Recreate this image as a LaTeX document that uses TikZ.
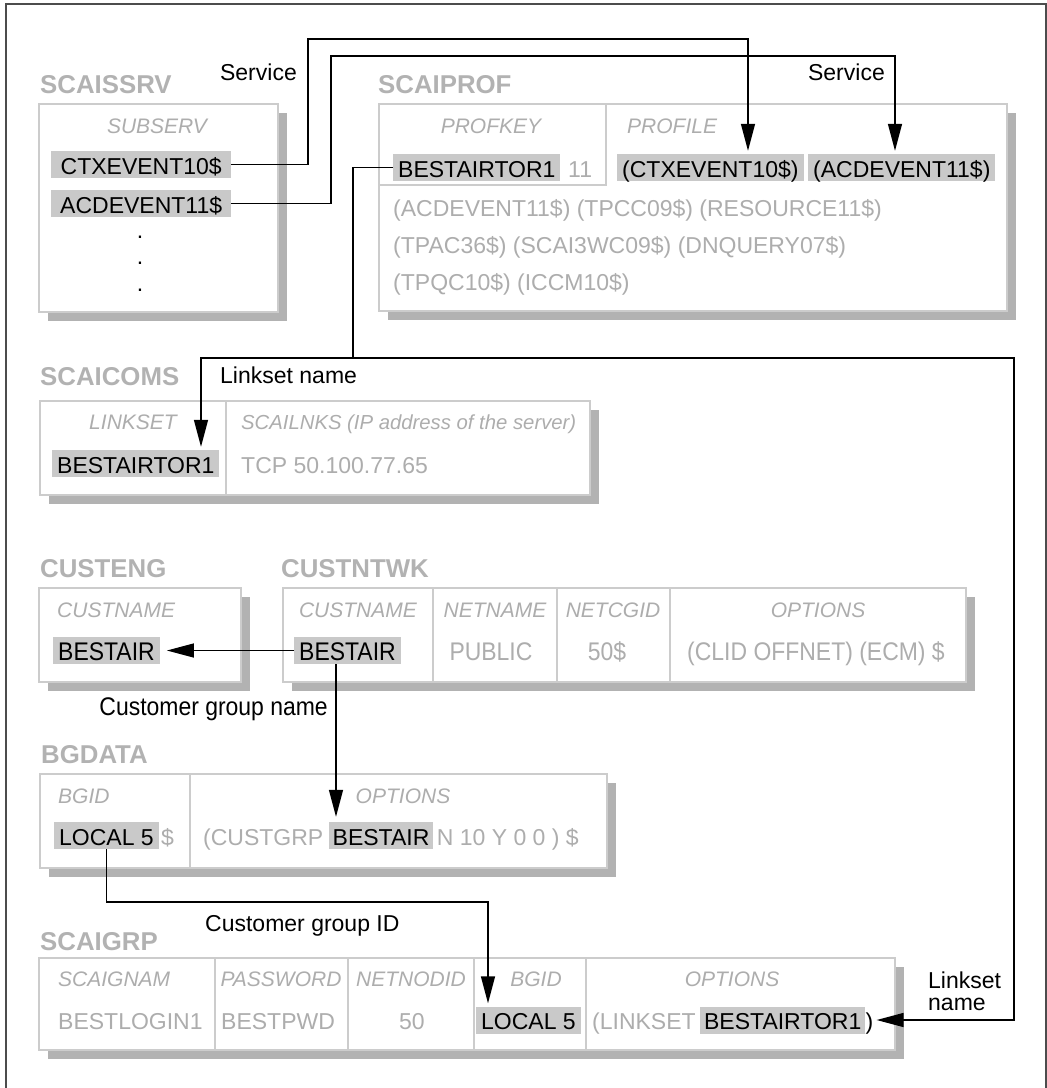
\documentclass[tikz,border=0pt]{standalone}
\usepackage{fontspec}
\setmainfont{Liberation Sans}
\newfontfamily\tallfont{Liberation Sans}[FakeStretch=0.9]
\usetikzlibrary{arrows.meta,shadows}
\definecolor{boxgray}{gray}{0.80}
\definecolor{shadegray}{gray}{0.70}
\definecolor{hlgray}{gray}{0.79}
\definecolor{txtgray}{gray}{0.68}
\definecolor{titlegray}{gray}{0.70}
\definecolor{framegray}{gray}{0.30}

\begin{document}
\begin{tikzpicture}[x=1pt,y=-1pt,
  tbl/.style={draw=boxgray,line width=1.5pt,fill=white,inner sep=0pt,anchor=north west,
    drop shadow={shadow xshift=9pt,shadow yshift=-9pt,fill=shadegray,opacity=1}},
  cell/.style={draw=boxgray,line width=1.5pt},
  tname/.style={anchor=base west,inner sep=0pt,text=titlegray,font=\fontsize{25.8}{26}\selectfont\bfseries},
  head/.style={anchor=base,inner sep=0pt,text=txtgray,font=\fontsize{21}{21}\selectfont\itshape},
  val/.style={anchor=base west,inner sep=0pt,text height=23pt,text depth=4pt,text=txtgray,font=\fontsize{23}{23}\selectfont},
  hl/.style={val,fill=hlgray,text=black,inner xsep=5pt},
  tall/.style={font=\tallfont\fontsize{25.5}{25}\selectfont},
  lbl/.style={anchor=base east,inner sep=0pt,font=\fontsize{23}{22}\selectfont},
  link/.style={line width=1.4pt},
  arr/.style={link,-{Triangle[length=27pt,width=14pt]}}]
\useasboundingbox (0,0) rectangle (1047,1088);
\draw[framegray,line width=2pt] (6,1100) -- (6,4) -- (1046,4) -- (1046,1100);

% SCAISSRV
\node[tname] (t-srv) at (40,93) {SCAISSRV};
\node[tbl,minimum width=239pt,minimum height=208pt] (srv) at (38,103) {};
\node[head] (h-sub) at (157,133) {SUBSERV};
\node[hl,minimum width=180pt] (ctx1) at (51,174) {CTXEVENT10\$};
\node[hl,minimum width=180pt] (acd1) at (51,213) {ACDEVENT11\$};
\node[val,text=black,anchor=base] (dot1) at (140,238.5) {.};
\node[val,text=black,anchor=base] (dot2) at (140,264.5) {.};
\node[val,text=black,anchor=base] (dot3) at (140,291.5) {.};

% SCAIPROF
\node[tname] (t-prof) at (378,93) {SCAIPROF};
\node[tbl,minimum width=628pt,minimum height=207pt] (prof) at (378,103) {};
\draw[cell] (606,103) -- (606,185) -- (378,185);
\node[head] (h-key) at (491,133) {PROFKEY};
\node[head,anchor=base west] (h-pro) at (627,133) {PROFILE};
\node[hl] (bst1) at (393,177) {BESTAIRTOR1};
\node[val] (n11) at (568,177) {11};
\node[hl] (ctx2) at (617,177) {(CTXEVENT10\$)};
\node[hl] (acd2) at (808,177) {(ACDEVENT11\$)};
\node[val] (p1) at (393,216) {(ACDEVENT11\$) (TPCC09\$) (RESOURCE11\$)};
\node[val] (p2) at (393,253) {(TPAC36\$) (SCAI3WC09\$) (DNQUERY07\$)};
\node[val] (p3) at (393,290) {(TPQC10\$) (ICCM10\$)};

\node[lbl] (sv1) at (297,80) {Service};
\node[lbl] (sv2) at (885,80) {Service};
\coordinate (s1a) at (308,39);
\coordinate (s1b) at (748,39);
\coordinate (s2a) at (331,56);
\coordinate (s2b) at (895,56);
\draw[arr,shorten >=3pt] (ctx1.east) -| (s1a) -- (s1b) -- (s1b |- ctx2.north);
\draw[arr,shorten >=3pt] (acd1.east) -| (s2a) -- (s2b) -- (s2b |- acd2.north);

% SCAICOMS
\node[tname] (t-coms) at (40,385) {SCAICOMS};
\node[lbl,anchor=base west] (lsn1) at (220,383) {Linkset name};
\node[tbl,minimum width=550pt,minimum height=94pt] (coms) at (39,400) {};
\draw[cell] (226,400) -- (226,494);
\node[head] (h-ls) at (133,429) {LINKSET};
\node[head,anchor=base west,font=\fontsize{20.3}{21}\selectfont\itshape] (h-lnk) at (241,429) {SCAILNKS (IP address of the server)};
\node[hl] (bst2) at (52,473) {BESTAIRTOR1};
\node[val] (tcp) at (241,473) {TCP 50.100.77.65};

% CUSTENG / CUSTNTWK
\node[tname] (t-eng) at (40,577) {CUSTENG};
\node[tname] (t-ntwk) at (281,577) {CUSTNTWK};
\node[tbl,minimum width=202pt,minimum height=94pt] (eng) at (38,587) {};
\node[tbl,minimum width=683pt,minimum height=94pt] (ntwk) at (282,587) {};
\draw[cell] (433,587) -- (433,681);
\draw[cell] (557,587) -- (557,681);
\draw[cell] (670,587) -- (670,681);
\node[head,anchor=base west] (h-cn1) at (57,617) {CUSTNAME};
\node[head] (h-cn2) at (358,617) {CUSTNAME};
\node[head] (h-nn) at (495,617) {NETNAME};
\node[head] (h-cg) at (613,617) {NETCGID};
\node[head] (h-op1) at (818,617) {OPTIONS};
\node[hl,tall] (cn1) at (53,660) {BESTAIR};
\node[hl,tall] (cn2) at (294,660) {BESTAIR};
\node[val,tall,anchor=base] (pub) at (491,660) {PUBLIC};
\node[val,tall,anchor=base] (cg) at (607,660) {50\$};
\node[val,tall,anchor=base] (op1) at (816,660) {(CLID OFFNET) (ECM) \$};
\draw[arr,shorten >=7pt] (cn2.west) -- (cn1.east);

% BGDATA
\node[lbl,tall] (gname) at (328,715) {Customer group name};
\node[tname] (t-bg) at (41,763) {BGDATA};
\node[tbl,minimum width=567pt,minimum height=94pt] (bg) at (39,773) {};
\draw[cell] (190,773) -- (190,867);
\node[head,anchor=base west] (h-bgid) at (58,803) {BGID};
\node[head] (h-op2) at (403,803) {OPTIONS};
\node[hl] (lc1) at (54,845) {LOCAL 5};
\node[val] (dl) at (161,845) {\$};
\node[val] (cgrp) at (203,845) {(CUSTGRP};
\node[hl,inner xsep=4pt] (bg2) at ([xshift=5pt]cgrp.base east) {BESTAIR};
\node[val] (rest) at ([xshift=3pt]bg2.base east) {N 10 Y 0 0 ) \$};
\coordinate (gn) at ([xshift=42pt]cn2.south west);
\draw[arr,shorten >=5pt] (gn) -- (gn |- bg2.north);

% SCAIGRP
\node[lbl,anchor=base west] (gid) at (205,931) {Customer group ID};
\node[tname] (t-grp) at (40,950) {SCAIGRP};
\node[tbl,minimum width=856pt,minimum height=92pt] (grp) at (38,957) {};
\draw[cell] (215,957) -- (215,1049);
\draw[cell] (348,957) -- (348,1049);
\draw[cell] (474,957) -- (474,1049);
\draw[cell] (586,957) -- (586,1049);
\node[head,anchor=base west] (h-sn) at (58,986) {SCAIGNAM};
\node[head] (h-pw) at (281,986) {PASSWORD};
\node[head] (h-nd) at (411,986) {NETNODID};
\node[head] (h-bg) at (536,986) {BGID};
\node[head] (h-op3) at (732,986) {OPTIONS};
\node[val] (lgn) at (58,1029.5) {BESTLOGIN1};
\node[val] (pwd) at (221,1029.5) {BESTPWD};
\node[val,anchor=base] (nd) at (412,1029.5) {50};
\node[hl] (lc2) at (476,1029.5) {LOCAL 5};
\node[val] (lks) at (592,1029.5) {(LINKSET};
\node[hl,inner xsep=4pt] (bst3) at ([xshift=4pt]lks.base east) {BESTAIRTOR1};
\node[val,text=black] (rp) at (bst3.base east) {)};
\node[lbl,anchor=base west,align=left] (lsn2) at (928,1010) {Linkset\\name};

\coordinate (b5) at (488,902);
\draw[arr,shorten >=3pt] (lc1.south) |- (b5) -- (b5 |- lc2.north);

% linkset name
\coordinate (k1) at (353,358);
\coordinate (k2) at (201,358);
\coordinate (k3) at (1014,358);
\draw[link] (bst1.west) -| (k1);
\draw[arr,shorten >=3pt] (k1) -- (k2) -- (k2 |- bst2.north);
\draw[arr,shorten >=3pt] (k1) -- (k3) |- (rp.east);
\end{tikzpicture}
\end{document}
